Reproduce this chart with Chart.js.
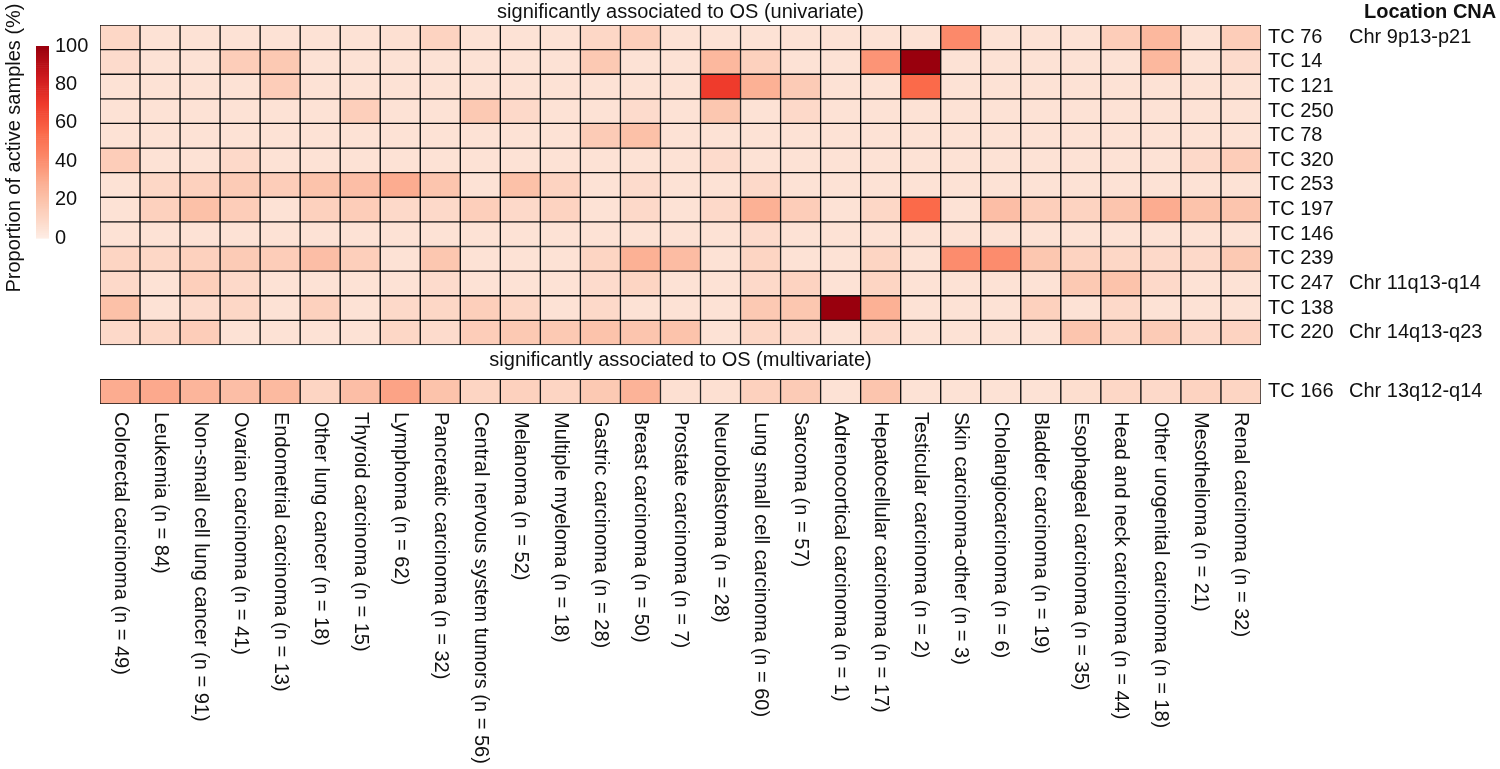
<!DOCTYPE html>
<html>
<head>
<meta charset="utf-8">
<script src="https://cdn.jsdelivr.net/npm/chart.js@4.4.1/dist/chart.umd.min.js"></script>
<style>
  html, body { margin: 0; padding: 0; background: #ffffff; overflow: hidden; }
  #wrap { width: 1500px; height: 769px; position: relative; }
</style>
</head>
<body>
<div id="wrap"><canvas id="c" width="1500" height="769"></canvas></div>
<script>
// ---------------- data ----------------
const categories = [
  "Colorectal carcinoma (n = 49)", "Leukemia (n = 84)", "Non-small cell lung cancer (n = 91)",
  "Ovarian carcinoma (n = 41)", "Endometrial carcinoma (n = 13)", "Other lung cancer (n = 18)",
  "Thyroid carcinoma (n = 15)", "Lymphoma (n = 62)", "Pancreatic carcinoma (n = 32)",
  "Central nervous system tumors (n = 56)", "Melanoma (n = 52)", "Multiple myeloma (n = 18)",
  "Gastric carcinoma (n = 28)", "Breast carcinoma (n = 50)", "Prostate carcinoma (n = 7)",
  "Neuroblastoma (n = 28)", "Lung small cell carcinoma (n = 60)", "Sarcoma (n = 57)",
  "Adrenocortical carcinoma (n = 1)", "Hepatocellular carcinoma (n = 17)", "Testicular carcinoma (n = 2)",
  "Skin carcinoma-other (n = 3)", "Cholangiocarcinoma (n = 6)", "Bladder carcinoma (n = 19)",
  "Esophageal carcinoma (n = 35)", "Head and neck carcinoma (n = 44)", "Other urogenital carcinoma (n = 18)",
  "Mesothelioma (n = 21)", "Renal carcinoma (n = 32)"
];

const univariateRows = ["TC 76", "TC 14", "TC 121", "TC 250", "TC 78", "TC 320", "TC 253",
                        "TC 197", "TC 146", "TC 239", "TC 247", "TC 138", "TC 220"];
const univariateLocations = ["Chr 9p13-p21", "", "", "", "", "", "", "", "", "", "Chr 11q13-q14", "", "Chr 14q13-q23"];

const multivariateRows = ["TC 166"];
const multivariateLocations = ["Chr 13q12-q14"];

// proportion of active samples (%), one array per row, in category order
const tc76  = [10,5,5,5,5,5,5,6,12,5,5,5,10,14,5,5,5,5,5,5,5,42,5,5,5,15,25,5,15];
const tc14  = [8,5,5,15,17,5,5,5,5,5,5,5,17,5,5,25,13,5,5,38,100,5,5,5,5,5,25,5,8];
const tc121 = [5,5,5,5,15,5,5,5,5,5,5,5,5,5,5,70,28,16,5,5,55,5,5,5,5,5,5,5,5];
const tc250 = [5,5,5,5,5,5,14,5,5,17,9,5,5,8,5,18,5,9,5,5,5,5,5,5,5,5,5,5,5];
const tc78  = [5,5,5,5,5,5,5,5,5,5,5,5,16,21,5,5,5,5,5,5,5,5,5,5,5,5,5,5,5];
const tc320 = [15,5,5,9,5,5,5,5,5,5,5,5,5,5,5,8,5,5,5,5,5,5,5,5,5,5,5,9,15];
const tc253 = [5,10,13,16,15,20,22,30,19,5,21,12,5,8,5,5,9,5,5,5,5,5,5,5,5,5,5,5,5];
const tc197 = [5,13,21,15,5,13,15,9,9,14,9,12,5,9,5,9,28,15,5,10,55,5,22,14,12,19,30,20,19];
const tc146 = [5,5,5,5,5,5,5,5,5,5,5,5,5,5,5,5,8,5,5,5,5,5,5,5,5,5,5,5,5];
const tc239 = [11,10,13,16,15,22,14,5,18,5,5,5,11,28,23,5,11,5,5,11,5,41,41,18,12,10,9,9,17];
const tc247 = [9,5,14,9,5,5,5,5,8,5,5,5,8,11,5,5,9,12,5,11,5,5,5,5,17,20,9,5,5];
const tc138 = [21,5,8,10,5,13,5,9,10,14,10,5,9,5,5,5,17,18,100,28,5,5,5,13,5,9,5,5,5];
const tc220 = [9,10,15,5,5,5,5,10,8,15,17,17,20,19,20,5,10,8,5,9,5,5,5,5,19,11,16,9,12];
const tc166 = [30,31,26,22,24,11,22,33,20,11,13,11,17,27,6,6,13,16,5,19,5,5,5,5,7,10,9,12,11];

const univariateValues = [tc76, tc14, tc121, tc250, tc78, tc320, tc253, tc197, tc146, tc239, tc247, tc138, tc220];
const multivariateValues = [tc166];

const legendTicks = [0, 20, 40, 60, 80, 100];

// ---------------- colour scale (Reds) ----------------
const colorStops = [
  [0, [254, 238, 230]], [5, [253, 226, 213]], [10, [253, 215, 198]], [20, [252, 195, 171]],
  [30, [252, 172, 144]], [40, [252, 142, 111]], [55, [251, 106, 74]], [70, [239, 59, 44]],
  [85, [203, 24, 29]], [100, [153, 0, 13]]
];
function valueColor(v) {
  v = Math.max(0, Math.min(100, v));
  for (let i = 1; i < colorStops.length; i++) {
    const [v1, c1] = colorStops[i];
    const [v0, c0] = colorStops[i - 1];
    if (v <= v1) {
      const t = (v - v0) / (v1 - v0);
      const c = c0.map((a, k) => Math.round(a + (c1[k] - a) * t));
      return `rgb(${c[0]},${c[1]},${c[2]})`;
    }
  }
  return 'rgb(153,0,13)';
}

// ---------------- layout constants ----------------
const GAP = 1.4;                       // gap (in row units) between the two panels
const lowerStart = univariateRows.length + GAP;
const yMax = lowerStart + multivariateRows.length;
const FONT = '"Liberation Sans", Arial, Helvetica, sans-serif';
const FS = 20;

const datasets = [];
univariateRows.forEach((name, r) => {
  datasets.push({
    label: name,
    data: univariateValues[r].map(() => [r, r + 1]),
    backgroundColor: univariateValues[r].map(valueColor),
    borderColor: '#111111', borderWidth: 1, borderSkipped: false,
    categoryPercentage: 1, barPercentage: 1
  });
});
multivariateRows.forEach((name, r) => {
  datasets.push({
    label: name,
    data: multivariateValues[r].map(() => [lowerStart + r, lowerStart + r + 1]),
    backgroundColor: multivariateValues[r].map(valueColor),
    borderColor: '#111111', borderWidth: 1, borderSkipped: false,
    categoryPercentage: 1, barPercentage: 1
  });
});

const textPlugin = {
  id: 'heatText',
  afterDraw(chart) {
    const ctx = chart.ctx;
    const xs = chart.scales.x, ys = chart.scales.y;
    const area = chart.chartArea;
    const cx = (area.left + area.right) / 2;
    ctx.save();
    ctx.fillStyle = '#111';
    ctx.font = `${FS}px ${FONT}`;
    ctx.textBaseline = 'middle';

    // panel titles
    ctx.textAlign = 'center';
    ctx.fillText('significantly associated to OS (univariate)', cx, ys.getPixelForValue(0) - 13);
    ctx.fillText('significantly associated to OS (multivariate)', cx, ys.getPixelForValue(lowerStart) - 19);

    // row labels + locations
    ctx.textAlign = 'left';
    univariateRows.forEach((name, r) => {
      const y = ys.getPixelForValue(r + 0.5);
      ctx.fillText(name, area.right + 7, y);
      if (univariateLocations[r]) ctx.fillText(univariateLocations[r], area.right + 88, y);
    });
    multivariateRows.forEach((name, r) => {
      const y = ys.getPixelForValue(lowerStart + r + 0.5);
      ctx.fillText(name, area.right + 7, y);
      if (multivariateLocations[r]) ctx.fillText(multivariateLocations[r], area.right + 88, y);
    });
    ctx.font = `bold ${FS}px ${FONT}`;
    ctx.fillText('Location CNA', area.right + 103, ys.getPixelForValue(0) - 13);

    // column labels, rotated +90°
    ctx.font = `${FS}px ${FONT}`;
    categories.forEach((lab, i) => {
      const x = xs.getPixelForValue(i);
      ctx.save();
      ctx.translate(x, area.bottom + 8);
      ctx.rotate(Math.PI / 2);
      ctx.textAlign = 'left';
      ctx.textBaseline = 'middle';
      ctx.fillText(lab, 0, 0);
      ctx.restore();
    });

    // colour legend
    const lx = 36, lw = 13, lTop = 46, lBot = 238;
    const steps = 100;
    for (let s = 0; s < steps; s++) {
      const y0 = lBot - (s + 1) / steps * (lBot - lTop);
      ctx.fillStyle = valueColor(s + 0.5);
      ctx.fillRect(lx, y0, lw, (lBot - lTop) / steps + 0.6);
    }
    ctx.fillStyle = '#111';
    ctx.textAlign = 'left';
    legendTicks.forEach(t => {
      ctx.fillText(String(t), lx + lw + 6, lBot - t / 100 * (lBot - lTop));
    });
    ctx.save();
    ctx.translate(14, 148);
    ctx.rotate(-Math.PI / 2);
    ctx.textAlign = 'center';
    ctx.fillText('Proportion of active samples (%)', 0, 0);
    ctx.restore();

    ctx.restore();
  }
};

new Chart(document.getElementById('c'), {
  type: 'bar',
  data: { labels: categories, datasets },
  options: {
    responsive: false,
    animation: false,
    layout: { padding: { left: 100, right: 239, top: 25, bottom: 365 } },
    plugins: { legend: { display: false }, tooltip: { enabled: false }, title: { display: false } },
    scales: {
      x: { type: 'category', stacked: true, display: false, offset: true },
      y: { type: 'linear', min: 0, max: yMax, reverse: true, display: false }
    }
  },
  plugins: [textPlugin]
});
</script>
</body>
</html>
